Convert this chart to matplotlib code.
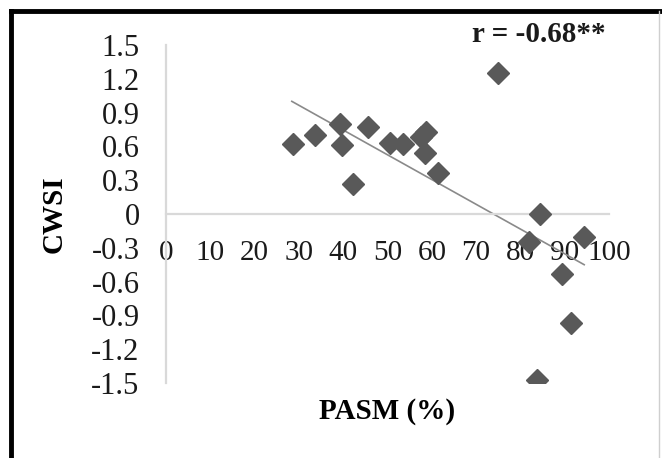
import matplotlib
matplotlib.use("Agg")
import matplotlib.pyplot as plt
from matplotlib.lines import Line2D

# Data
pasm = [28.7, 33.6, 39.3, 39.7, 42.1, 45.7, 50.6, 53.6, 57.6, 58.6, 58.4, 61.5,
        75.0, 82.0, 84.4, 83.8, 89.3, 91.4, 94.4]
cwsi = [0.62, 0.70, 0.80, 0.61, 0.27, 0.77, 0.63, 0.62, 0.68, 0.73, 0.54, 0.36,
        1.25, -0.25, 0.00, -1.47, -0.53, -0.97, -0.20]
trend_x = [28.4, 94.4]
trend_y = [1.00, -0.45]
x_ticks = [0, 10, 20, 30, 40, 50, 60, 70, 80, 90, 100]
y_ticks = [1.5, 1.2, 0.9, 0.6, 0.3, 0, -0.3, -0.6, -0.9, -1.2, -1.5]
y_tick_labels = ["1.5", "1.2", "0.9", "0.6", "0.3", "0", "-0.3", "-0.6", "-0.9", "-1.2", "-1.5"]
r_text = "r = -0.68**"

W, H = 662, 458
fig = plt.figure(figsize=(W / 100, H / 100), dpi=100)
ax = fig.add_axes([166 / W, 1 - 383 / H, (609 - 166) / W, (383 - 45) / H])

serif = "Liberation Serif"
ax.plot(trend_x, trend_y, color="#8a8a8a", lw=1.2, zorder=2)
ax.plot(pasm, cwsi, linestyle="none", marker="D", markersize=11,
        color="#595959", markeredgecolor="#595959", zorder=3)

ax.set_xlim(0, 100)
ax.set_ylim(-1.5, 1.5)
ax.set_xticks(x_ticks)
ax.set_xticklabels([str(v) for v in x_ticks])
ax.set_yticks(y_ticks)
ax.set_yticklabels(y_tick_labels)

for s in ["top", "right"]:
    ax.spines[s].set_visible(False)
ax.spines["left"].set_position(("data", 0))
ax.spines["bottom"].set_position(("data", 0))
for s in ["left", "bottom"]:
    ax.spines[s].set_color("#d9d9d9")
    ax.spines[s].set_linewidth(1.6)

ax.tick_params(axis="both", length=0)
ax.tick_params(axis="x", pad=19)
ax.tick_params(axis="y", pad=19)
for lab in ax.get_xticklabels():
    lab.set_fontfamily(serif)
    lab.set_fontsize(21)
    lab.set_color("#1a1a1a")
for lab in ax.get_yticklabels():
    lab.set_fontfamily(serif)
    lab.set_fontsize(22)
    lab.set_color("#1a1a1a")

ax.set_ylabel("CWSI", fontfamily=serif, fontweight="bold", fontsize=21)
ax.yaxis.set_label_coords(-0.221, 0.5)
ax.set_xlabel("PASM (%)", fontfamily=serif, fontweight="bold", fontsize=21)
ax.xaxis.set_label_coords(0.50, -0.045)

fig.text(539 / W, 1 - 35 / H, r_text, fontfamily=serif, fontweight="bold",
         fontsize=21, ha="center", va="center", color="#1a1a1a")

# figure frame
fig.add_artist(Line2D([11 / W, 11 / W], [0, 1 - 11 / H], transform=fig.transFigure,
                      color="black", lw=3.5))
fig.add_artist(Line2D([11 / W, 1], [1 - 11 / H, 1 - 11 / H], transform=fig.transFigure,
                      color="black", lw=3.5))
fig.add_artist(Line2D([659 / W, 659 / W], [0, 1 - 11 / H], transform=fig.transFigure,
                      color="#cfcfcf", lw=1))

fig.savefig("out.png", dpi=100)
